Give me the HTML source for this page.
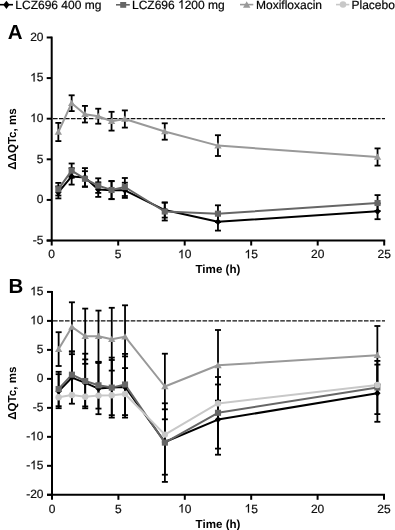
<!DOCTYPE html>
<html><head><meta charset="utf-8"><style>
html,body{margin:0;padding:0;background:#fff;width:395px;height:530px;overflow:hidden;}
svg{display:block;will-change:transform;text-rendering:geometricPrecision;}
text{stroke:#111;stroke-width:0.22px;}
text[font-weight=bold]{stroke-width:0;}
path.one{stroke:#111;stroke-width:37px;}
</style></head><body><svg width="395" height="530" viewBox="0 0 395 530"><g stroke-width="1.6"><line x1="0" y1="4.7" x2="13" y2="4.7" stroke="#000"/><line x1="116" y1="4.8" x2="129.8" y2="4.8" stroke="#666"/><line x1="240" y1="4.6" x2="253.3" y2="4.6" stroke="#999"/><line x1="336" y1="4.6" x2="349.3" y2="4.6" stroke="#c8c8c8"/></g><path d="M6.4 0.8L9.5 4.85L6.4 8.9L3.3 4.85Z" fill="#000"/><rect x="120.2" y="2" width="6" height="5.8" fill="#666"/><path d="M246.7 1.3L250.4 7.8L243.0 7.8Z" fill="#999"/><circle cx="343.00" cy="4.60" r="3.25" fill="#c8c8c8"/><g font-family="Liberation Sans, sans-serif" font-size="12" fill="#000"><text x="15.3" y="8.5">LCZ696 400 mg</text></g><text x="132.00" y="8.50" font-family="Liberation Sans, sans-serif" font-size="12" fill="#000">LCZ696  200 mg</text><path transform="translate(178.03 8.50) scale(0.005859 -0.005859)" d="M763 0L583 0L583 1147Q518 1085 412 1023Q306 961 223 930L223 1104Q371 1174 482 1274Q593 1374 639 1468L763 1468Z" fill="#000" class="one"/><g font-family="Liberation Sans, sans-serif" font-size="12" fill="#000"><text x="256" y="8.5">Moxifloxacin</text><text x="351.5" y="8.5">Placebo</text></g><line x1="53" y1="118.7" x2="385" y2="118.7" stroke="#111" stroke-width="1.2" stroke-dasharray="4.6 1.38"/><g stroke="#000" stroke-width="2" fill="none"><line x1="51.7" y1="36.58" x2="51.7" y2="245.53"/><line x1="46.7" y1="240.53" x2="385.2" y2="240.53"/><line x1="46.7" y1="37.48" x2="51.7" y2="37.48"/><line x1="46.7" y1="78.09" x2="51.7" y2="78.09"/><line x1="46.7" y1="118.70" x2="51.7" y2="118.70"/><line x1="46.7" y1="159.31" x2="51.7" y2="159.31"/><line x1="46.7" y1="199.92" x2="51.7" y2="199.92"/><line x1="46.7" y1="240.53" x2="51.7" y2="240.53"/><line x1="118.20" y1="240.53" x2="118.20" y2="245.53"/><line x1="184.70" y1="240.53" x2="184.70" y2="245.53"/><line x1="251.20" y1="240.53" x2="251.20" y2="245.53"/><line x1="317.70" y1="240.53" x2="317.70" y2="245.53"/><line x1="384.20" y1="240.53" x2="384.20" y2="245.53"/></g><text x="30.15" y="40.88" font-family="Liberation Sans, sans-serif" font-size="12" fill="#111">20</text><text x="30.15" y="81.49" font-family="Liberation Sans, sans-serif" font-size="12" fill="#111"> 5</text><path transform="translate(30.15 81.49) scale(0.005859 -0.005859)" d="M763 0L583 0L583 1147Q518 1085 412 1023Q306 961 223 930L223 1104Q371 1174 482 1274Q593 1374 639 1468L763 1468Z" fill="#111" class="one"/><text x="30.15" y="122.10" font-family="Liberation Sans, sans-serif" font-size="12" fill="#111"> 0</text><path transform="translate(30.15 122.10) scale(0.005859 -0.005859)" d="M763 0L583 0L583 1147Q518 1085 412 1023Q306 961 223 930L223 1104Q371 1174 482 1274Q593 1374 639 1468L763 1468Z" fill="#111" class="one"/><text x="36.83" y="162.71" font-family="Liberation Sans, sans-serif" font-size="12" fill="#111">5</text><text x="36.83" y="203.32" font-family="Liberation Sans, sans-serif" font-size="12" fill="#111">0</text><text x="32.83" y="243.93" font-family="Liberation Sans, sans-serif" font-size="12" fill="#111">-5</text><text x="48.36" y="258.33" font-family="Liberation Sans, sans-serif" font-size="12" fill="#111">0</text><text x="114.86" y="258.33" font-family="Liberation Sans, sans-serif" font-size="12" fill="#111">5</text><text x="178.03" y="258.33" font-family="Liberation Sans, sans-serif" font-size="12" fill="#111"> 0</text><path transform="translate(178.03 258.33) scale(0.005859 -0.005859)" d="M763 0L583 0L583 1147Q518 1085 412 1023Q306 961 223 930L223 1104Q371 1174 482 1274Q593 1374 639 1468L763 1468Z" fill="#111" class="one"/><text x="244.53" y="258.33" font-family="Liberation Sans, sans-serif" font-size="12" fill="#111"> 5</text><path transform="translate(244.53 258.33) scale(0.005859 -0.005859)" d="M763 0L583 0L583 1147Q518 1085 412 1023Q306 961 223 930L223 1104Q371 1174 482 1274Q593 1374 639 1468L763 1468Z" fill="#111" class="one"/><text x="311.03" y="258.33" font-family="Liberation Sans, sans-serif" font-size="12" fill="#111">20</text><text x="377.53" y="258.33" font-family="Liberation Sans, sans-serif" font-size="12" fill="#111">25</text><text x="217.95" y="273.0" text-anchor="middle" font-family="Liberation Sans, sans-serif" font-weight="bold" font-size="11.6" fill="#000">Time (h)</text><text transform="translate(16.2 139.0) rotate(-90)" text-anchor="middle" font-family="Liberation Sans, sans-serif" font-weight="bold" font-size="11.6" fill="#000">&#916;&#916;QTc, ms</text><text x="7.8" y="38.6" font-family="Liberation Sans, sans-serif" font-weight="bold" font-size="20.5" fill="#000">A</text><g stroke="#000" stroke-width="1.8"><line x1="58.35" y1="122.90" x2="58.35" y2="141.10"/><line x1="55.35" y1="122.90" x2="61.35" y2="122.90"/><line x1="55.35" y1="141.10" x2="61.35" y2="141.10"/><line x1="71.65" y1="95.30" x2="71.65" y2="111.10"/><line x1="68.65" y1="95.30" x2="74.65" y2="95.30"/><line x1="68.65" y1="111.10" x2="74.65" y2="111.10"/><line x1="84.95" y1="105.90" x2="84.95" y2="122.50"/><line x1="81.95" y1="105.90" x2="87.95" y2="105.90"/><line x1="81.95" y1="122.50" x2="87.95" y2="122.50"/><line x1="98.25" y1="108.70" x2="98.25" y2="123.70"/><line x1="95.25" y1="108.70" x2="101.25" y2="108.70"/><line x1="95.25" y1="123.70" x2="101.25" y2="123.70"/><line x1="111.55" y1="111.80" x2="111.55" y2="130.60"/><line x1="108.55" y1="111.80" x2="114.55" y2="111.80"/><line x1="108.55" y1="130.60" x2="114.55" y2="130.60"/><line x1="124.85" y1="110.40" x2="124.85" y2="127.60"/><line x1="121.85" y1="110.40" x2="127.85" y2="110.40"/><line x1="121.85" y1="127.60" x2="127.85" y2="127.60"/><line x1="164.75" y1="123.30" x2="164.75" y2="139.70"/><line x1="161.75" y1="123.30" x2="167.75" y2="123.30"/><line x1="161.75" y1="139.70" x2="167.75" y2="139.70"/><line x1="217.95" y1="135.20" x2="217.95" y2="156.00"/><line x1="214.95" y1="135.20" x2="220.95" y2="135.20"/><line x1="214.95" y1="156.00" x2="220.95" y2="156.00"/><line x1="377.55" y1="148.40" x2="377.55" y2="165.60"/><line x1="374.55" y1="148.40" x2="380.55" y2="148.40"/><line x1="374.55" y1="165.60" x2="380.55" y2="165.60"/></g><g stroke="#000" stroke-width="1.8"><line x1="58.35" y1="186.40" x2="58.35" y2="198.40"/><line x1="55.35" y1="186.40" x2="61.35" y2="186.40"/><line x1="55.35" y1="198.40" x2="61.35" y2="198.40"/><line x1="71.65" y1="168.20" x2="71.65" y2="184.60"/><line x1="68.65" y1="168.20" x2="74.65" y2="168.20"/><line x1="68.65" y1="184.60" x2="74.65" y2="184.60"/><line x1="84.95" y1="168.10" x2="84.95" y2="186.90"/><line x1="81.95" y1="168.10" x2="87.95" y2="168.10"/><line x1="81.95" y1="186.90" x2="87.95" y2="186.90"/><line x1="98.25" y1="182.30" x2="98.25" y2="196.90"/><line x1="95.25" y1="182.30" x2="101.25" y2="182.30"/><line x1="95.25" y1="196.90" x2="101.25" y2="196.90"/><line x1="111.55" y1="181.20" x2="111.55" y2="199.20"/><line x1="108.55" y1="181.20" x2="114.55" y2="181.20"/><line x1="108.55" y1="199.20" x2="114.55" y2="199.20"/><line x1="124.85" y1="182.70" x2="124.85" y2="197.90"/><line x1="121.85" y1="182.70" x2="127.85" y2="182.70"/><line x1="121.85" y1="197.90" x2="127.85" y2="197.90"/><line x1="164.75" y1="202.60" x2="164.75" y2="217.60"/><line x1="161.75" y1="202.60" x2="167.75" y2="202.60"/><line x1="161.75" y1="217.60" x2="167.75" y2="217.60"/><line x1="217.95" y1="213.00" x2="217.95" y2="230.60"/><line x1="214.95" y1="213.00" x2="220.95" y2="213.00"/><line x1="214.95" y1="230.60" x2="220.95" y2="230.60"/><line x1="377.55" y1="203.40" x2="377.55" y2="219.20"/><line x1="374.55" y1="203.40" x2="380.55" y2="203.40"/><line x1="374.55" y1="219.20" x2="380.55" y2="219.20"/></g><g stroke="#000" stroke-width="1.8"><line x1="58.35" y1="182.90" x2="58.35" y2="195.50"/><line x1="55.35" y1="182.90" x2="61.35" y2="182.90"/><line x1="55.35" y1="195.50" x2="61.35" y2="195.50"/><line x1="71.65" y1="163.50" x2="71.65" y2="177.70"/><line x1="68.65" y1="163.50" x2="74.65" y2="163.50"/><line x1="68.65" y1="177.70" x2="74.65" y2="177.70"/><line x1="84.95" y1="171.20" x2="84.95" y2="186.40"/><line x1="81.95" y1="171.20" x2="87.95" y2="171.20"/><line x1="81.95" y1="186.40" x2="87.95" y2="186.40"/><line x1="98.25" y1="178.30" x2="98.25" y2="192.90"/><line x1="95.25" y1="178.30" x2="101.25" y2="178.30"/><line x1="95.25" y1="192.90" x2="101.25" y2="192.90"/><line x1="111.55" y1="181.00" x2="111.55" y2="199.00"/><line x1="108.55" y1="181.00" x2="114.55" y2="181.00"/><line x1="108.55" y1="199.00" x2="114.55" y2="199.00"/><line x1="124.85" y1="178.00" x2="124.85" y2="196.00"/><line x1="121.85" y1="178.00" x2="127.85" y2="178.00"/><line x1="121.85" y1="196.00" x2="127.85" y2="196.00"/><line x1="164.75" y1="202.50" x2="164.75" y2="220.50"/><line x1="161.75" y1="202.50" x2="167.75" y2="202.50"/><line x1="161.75" y1="220.50" x2="167.75" y2="220.50"/><line x1="217.95" y1="205.30" x2="217.95" y2="222.10"/><line x1="214.95" y1="205.30" x2="220.95" y2="205.30"/><line x1="214.95" y1="222.10" x2="220.95" y2="222.10"/><line x1="377.55" y1="195.10" x2="377.55" y2="210.90"/><line x1="374.55" y1="195.10" x2="380.55" y2="195.10"/><line x1="374.55" y1="210.90" x2="380.55" y2="210.90"/></g><polyline points="58.35,132.00 71.65,103.20 84.95,114.20 98.25,116.20 111.55,121.20 124.85,119.00 164.75,131.50 217.95,145.60 377.55,157.00" fill="none" stroke="#999" stroke-width="2.0" stroke-linejoin="round"/><polyline points="58.35,192.40 71.65,176.40 84.95,177.50 98.25,189.60 111.55,190.20 124.85,190.30 164.75,210.10 217.95,221.80 377.55,211.30" fill="none" stroke="#000" stroke-width="2.0" stroke-linejoin="round"/><polyline points="58.35,189.20 71.65,170.60 84.95,178.80 98.25,185.60 111.55,190.00 124.85,187.00 164.75,211.50 217.95,213.70 377.55,203.00" fill="none" stroke="#666" stroke-width="2.0" stroke-linejoin="round"/><path d="M58.35 128.54L62.05 134.83L54.65 134.83Z" fill="#999"/><path d="M71.65 99.74L75.35 106.03L67.95 106.03Z" fill="#999"/><path d="M84.95 110.74L88.65 117.03L81.25 117.03Z" fill="#999"/><path d="M98.25 112.74L101.95 119.03L94.55 119.03Z" fill="#999"/><path d="M111.55 117.74L115.25 124.03L107.85 124.03Z" fill="#999"/><path d="M124.85 115.54L128.55 121.83L121.15 121.83Z" fill="#999"/><path d="M164.75 128.04L168.45 134.33L161.05 134.33Z" fill="#999"/><path d="M217.95 142.14L221.65 148.43L214.25 148.43Z" fill="#999"/><path d="M377.55 153.54L381.25 159.83L373.85 159.83Z" fill="#999"/><path d="M58.35 189.00L61.58 192.40L58.35 195.80L55.12 192.40Z" fill="#000"/><path d="M71.65 173.00L74.88 176.40L71.65 179.80L68.42 176.40Z" fill="#000"/><path d="M84.95 174.10L88.18 177.50L84.95 180.90L81.72 177.50Z" fill="#000"/><path d="M98.25 186.20L101.48 189.60L98.25 193.00L95.02 189.60Z" fill="#000"/><path d="M111.55 186.80L114.78 190.20L111.55 193.60L108.32 190.20Z" fill="#000"/><path d="M124.85 186.90L128.08 190.30L124.85 193.70L121.62 190.30Z" fill="#000"/><path d="M164.75 206.70L167.98 210.10L164.75 213.50L161.52 210.10Z" fill="#000"/><path d="M217.95 218.40L221.18 221.80L217.95 225.20L214.72 221.80Z" fill="#000"/><path d="M377.55 207.90L380.78 211.30L377.55 214.70L374.32 211.30Z" fill="#000"/><rect x="55.30" y="186.15" width="6.1" height="6.1" fill="#666"/><rect x="68.60" y="167.55" width="6.1" height="6.1" fill="#666"/><rect x="81.90" y="175.75" width="6.1" height="6.1" fill="#666"/><rect x="95.20" y="182.55" width="6.1" height="6.1" fill="#666"/><rect x="108.50" y="186.95" width="6.1" height="6.1" fill="#666"/><rect x="121.80" y="183.95" width="6.1" height="6.1" fill="#666"/><rect x="161.70" y="208.45" width="6.1" height="6.1" fill="#666"/><rect x="214.90" y="210.65" width="6.1" height="6.1" fill="#666"/><rect x="374.50" y="199.95" width="6.1" height="6.1" fill="#666"/><line x1="53" y1="320.9" x2="385" y2="320.9" stroke="#111" stroke-width="1.2" stroke-dasharray="4.6 1.38"/><g stroke="#000" stroke-width="2" fill="none"><line x1="52.0" y1="291.0" x2="52.0" y2="499.8"/><line x1="47.0" y1="494.8" x2="385.0" y2="494.8"/><line x1="47.0" y1="291.91" x2="52.0" y2="291.91"/><line x1="47.0" y1="320.90" x2="52.0" y2="320.90"/><line x1="47.0" y1="349.88" x2="52.0" y2="349.88"/><line x1="47.0" y1="378.87" x2="52.0" y2="378.87"/><line x1="47.0" y1="407.85" x2="52.0" y2="407.85"/><line x1="47.0" y1="436.84" x2="52.0" y2="436.84"/><line x1="47.0" y1="465.82" x2="52.0" y2="465.82"/><line x1="47.0" y1="494.81" x2="52.0" y2="494.81"/><line x1="118.40" y1="494.8" x2="118.40" y2="499.8"/><line x1="184.80" y1="494.8" x2="184.80" y2="499.8"/><line x1="251.20" y1="494.8" x2="251.20" y2="499.8"/><line x1="317.60" y1="494.8" x2="317.60" y2="499.8"/><line x1="384.00" y1="494.8" x2="384.00" y2="499.8"/></g><text x="30.15" y="295.31" font-family="Liberation Sans, sans-serif" font-size="12" fill="#111"> 5</text><path transform="translate(30.15 295.31) scale(0.005859 -0.005859)" d="M763 0L583 0L583 1147Q518 1085 412 1023Q306 961 223 930L223 1104Q371 1174 482 1274Q593 1374 639 1468L763 1468Z" fill="#111" class="one"/><text x="30.15" y="324.30" font-family="Liberation Sans, sans-serif" font-size="12" fill="#111"> 0</text><path transform="translate(30.15 324.30) scale(0.005859 -0.005859)" d="M763 0L583 0L583 1147Q518 1085 412 1023Q306 961 223 930L223 1104Q371 1174 482 1274Q593 1374 639 1468L763 1468Z" fill="#111" class="one"/><text x="36.83" y="353.28" font-family="Liberation Sans, sans-serif" font-size="12" fill="#111">5</text><text x="36.83" y="382.27" font-family="Liberation Sans, sans-serif" font-size="12" fill="#111">0</text><text x="32.83" y="411.25" font-family="Liberation Sans, sans-serif" font-size="12" fill="#111">-5</text><text x="26.16" y="440.24" font-family="Liberation Sans, sans-serif" font-size="12" fill="#111">- 0</text><path transform="translate(30.15 440.24) scale(0.005859 -0.005859)" d="M763 0L583 0L583 1147Q518 1085 412 1023Q306 961 223 930L223 1104Q371 1174 482 1274Q593 1374 639 1468L763 1468Z" fill="#111" class="one"/><text x="26.16" y="469.22" font-family="Liberation Sans, sans-serif" font-size="12" fill="#111">- 5</text><path transform="translate(30.15 469.22) scale(0.005859 -0.005859)" d="M763 0L583 0L583 1147Q518 1085 412 1023Q306 961 223 930L223 1104Q371 1174 482 1274Q593 1374 639 1468L763 1468Z" fill="#111" class="one"/><text x="26.16" y="498.21" font-family="Liberation Sans, sans-serif" font-size="12" fill="#111">-20</text><text x="48.66" y="512.60" font-family="Liberation Sans, sans-serif" font-size="12" fill="#111">0</text><text x="115.06" y="512.60" font-family="Liberation Sans, sans-serif" font-size="12" fill="#111">5</text><text x="178.13" y="512.60" font-family="Liberation Sans, sans-serif" font-size="12" fill="#111"> 0</text><path transform="translate(178.13 512.60) scale(0.005859 -0.005859)" d="M763 0L583 0L583 1147Q518 1085 412 1023Q306 961 223 930L223 1104Q371 1174 482 1274Q593 1374 639 1468L763 1468Z" fill="#111" class="one"/><text x="244.53" y="512.60" font-family="Liberation Sans, sans-serif" font-size="12" fill="#111"> 5</text><path transform="translate(244.53 512.60) scale(0.005859 -0.005859)" d="M763 0L583 0L583 1147Q518 1085 412 1023Q306 961 223 930L223 1104Q371 1174 482 1274Q593 1374 639 1468L763 1468Z" fill="#111" class="one"/><text x="310.93" y="512.60" font-family="Liberation Sans, sans-serif" font-size="12" fill="#111">20</text><text x="377.33" y="512.60" font-family="Liberation Sans, sans-serif" font-size="12" fill="#111">25</text><text x="218.00" y="527.7" text-anchor="middle" font-family="Liberation Sans, sans-serif" font-weight="bold" font-size="11.6" fill="#000">Time (h)</text><text transform="translate(16.2 393.2) rotate(-90)" text-anchor="middle" font-family="Liberation Sans, sans-serif" font-weight="bold" font-size="11.6" fill="#000">&#916;QTc, ms</text><text x="8.5" y="292.8" font-family="Liberation Sans, sans-serif" font-weight="bold" font-size="20.5" fill="#000">B</text><g stroke="#000" stroke-width="1.8"><line x1="58.64" y1="332.20" x2="58.64" y2="366.00"/><line x1="55.64" y1="332.20" x2="61.64" y2="332.20"/><line x1="55.64" y1="366.00" x2="61.64" y2="366.00"/><line x1="71.92" y1="302.30" x2="71.92" y2="351.50"/><line x1="68.92" y1="302.30" x2="74.92" y2="302.30"/><line x1="68.92" y1="351.50" x2="74.92" y2="351.50"/><line x1="85.20" y1="308.60" x2="85.20" y2="363.80"/><line x1="82.20" y1="308.60" x2="88.20" y2="308.60"/><line x1="82.20" y1="363.80" x2="88.20" y2="363.80"/><line x1="98.48" y1="310.60" x2="98.48" y2="361.80"/><line x1="95.48" y1="310.60" x2="101.48" y2="310.60"/><line x1="95.48" y1="361.80" x2="101.48" y2="361.80"/><line x1="111.76" y1="307.80" x2="111.76" y2="370.60"/><line x1="108.76" y1="307.80" x2="114.76" y2="307.80"/><line x1="108.76" y1="370.60" x2="114.76" y2="370.60"/><line x1="125.04" y1="305.30" x2="125.04" y2="368.10"/><line x1="122.04" y1="305.30" x2="128.04" y2="305.30"/><line x1="122.04" y1="368.10" x2="128.04" y2="368.10"/><line x1="164.88" y1="353.70" x2="164.88" y2="419.30"/><line x1="161.88" y1="353.70" x2="167.88" y2="353.70"/><line x1="161.88" y1="419.30" x2="167.88" y2="419.30"/><line x1="218.00" y1="330.00" x2="218.00" y2="400.60"/><line x1="215.00" y1="330.00" x2="221.00" y2="330.00"/><line x1="215.00" y1="400.60" x2="221.00" y2="400.60"/><line x1="377.36" y1="326.00" x2="377.36" y2="384.40"/><line x1="374.36" y1="326.00" x2="380.36" y2="326.00"/><line x1="374.36" y1="384.40" x2="380.36" y2="384.40"/></g><g stroke="#000" stroke-width="1.8"><line x1="58.64" y1="374.20" x2="58.64" y2="408.20"/><line x1="55.64" y1="374.20" x2="61.64" y2="374.20"/><line x1="55.64" y1="408.20" x2="61.64" y2="408.20"/><line x1="71.92" y1="351.50" x2="71.92" y2="403.70"/><line x1="68.92" y1="351.50" x2="74.92" y2="351.50"/><line x1="68.92" y1="403.70" x2="74.92" y2="403.70"/><line x1="85.20" y1="359.40" x2="85.20" y2="406.40"/><line x1="82.20" y1="359.40" x2="88.20" y2="359.40"/><line x1="82.20" y1="406.40" x2="88.20" y2="406.40"/><line x1="98.48" y1="363.00" x2="98.48" y2="414.20"/><line x1="95.48" y1="363.00" x2="101.48" y2="363.00"/><line x1="95.48" y1="414.20" x2="101.48" y2="414.20"/><line x1="111.76" y1="360.00" x2="111.76" y2="415.20"/><line x1="108.76" y1="360.00" x2="114.76" y2="360.00"/><line x1="108.76" y1="415.20" x2="114.76" y2="415.20"/><line x1="125.04" y1="356.40" x2="125.04" y2="417.60"/><line x1="122.04" y1="356.40" x2="128.04" y2="356.40"/><line x1="122.04" y1="417.60" x2="128.04" y2="417.60"/><line x1="164.88" y1="409.30" x2="164.88" y2="474.70"/><line x1="161.88" y1="409.30" x2="167.88" y2="409.30"/><line x1="161.88" y1="474.70" x2="167.88" y2="474.70"/><line x1="218.00" y1="384.50" x2="218.00" y2="454.70"/><line x1="215.00" y1="384.50" x2="221.00" y2="384.50"/><line x1="215.00" y1="454.70" x2="221.00" y2="454.70"/><line x1="377.36" y1="364.60" x2="377.36" y2="421.80"/><line x1="374.36" y1="364.60" x2="380.36" y2="364.60"/><line x1="374.36" y1="421.80" x2="380.36" y2="421.80"/></g><g stroke="#000" stroke-width="1.8"><line x1="58.64" y1="371.80" x2="58.64" y2="406.20"/><line x1="55.64" y1="371.80" x2="61.64" y2="371.80"/><line x1="55.64" y1="406.20" x2="61.64" y2="406.20"/><line x1="71.92" y1="354.20" x2="71.92" y2="395.20"/><line x1="68.92" y1="354.20" x2="74.92" y2="354.20"/><line x1="68.92" y1="395.20" x2="74.92" y2="395.20"/><line x1="85.20" y1="353.70" x2="85.20" y2="408.30"/><line x1="82.20" y1="353.70" x2="88.20" y2="353.70"/><line x1="82.20" y1="408.30" x2="88.20" y2="408.30"/><line x1="98.48" y1="362.00" x2="98.48" y2="408.60"/><line x1="95.48" y1="362.00" x2="101.48" y2="362.00"/><line x1="95.48" y1="408.60" x2="101.48" y2="408.60"/><line x1="111.76" y1="357.60" x2="111.76" y2="417.60"/><line x1="108.76" y1="357.60" x2="114.76" y2="357.60"/><line x1="108.76" y1="417.60" x2="114.76" y2="417.60"/><line x1="125.04" y1="353.90" x2="125.04" y2="415.10"/><line x1="122.04" y1="353.90" x2="128.04" y2="353.90"/><line x1="122.04" y1="415.10" x2="128.04" y2="415.10"/><line x1="164.88" y1="403.30" x2="164.88" y2="481.90"/><line x1="161.88" y1="403.30" x2="167.88" y2="403.30"/><line x1="161.88" y1="481.90" x2="167.88" y2="481.90"/><line x1="218.00" y1="377.00" x2="218.00" y2="448.60"/><line x1="215.00" y1="377.00" x2="221.00" y2="377.00"/><line x1="215.00" y1="448.60" x2="221.00" y2="448.60"/><line x1="377.36" y1="360.90" x2="377.36" y2="414.10"/><line x1="374.36" y1="360.90" x2="380.36" y2="360.90"/><line x1="374.36" y1="414.10" x2="380.36" y2="414.10"/></g><polyline points="58.64,349.10 71.92,326.90 85.20,336.20 98.48,336.20 111.76,339.20 125.04,336.70 164.88,386.50 218.00,365.30 377.36,355.20" fill="none" stroke="#999" stroke-width="2.0" stroke-linejoin="round"/><polyline points="58.64,391.20 71.92,377.60 85.20,382.90 98.48,388.60 111.76,387.60 125.04,387.00 164.88,442.00 218.00,419.60 377.36,393.20" fill="none" stroke="#000" stroke-width="2.0" stroke-linejoin="round"/><polyline points="58.64,389.00 71.92,374.70 85.20,381.00 98.48,385.30 111.76,387.60 125.04,384.50 164.88,442.60 218.00,412.80 377.36,387.50" fill="none" stroke="#666" stroke-width="2.0" stroke-linejoin="round"/><polyline points="58.64,397.30 71.92,395.00 85.20,396.80 98.48,395.60 111.76,395.30 125.04,394.00 164.88,434.60 218.00,403.40 377.36,385.00" fill="none" stroke="#c8c8c8" stroke-width="2.0" stroke-linejoin="round"/><path d="M58.64 345.64L62.34 351.93L54.94 351.93Z" fill="#999"/><path d="M71.92 323.44L75.62 329.73L68.22 329.73Z" fill="#999"/><path d="M85.20 332.74L88.90 339.03L81.50 339.03Z" fill="#999"/><path d="M98.48 332.74L102.18 339.03L94.78 339.03Z" fill="#999"/><path d="M111.76 335.74L115.46 342.03L108.06 342.03Z" fill="#999"/><path d="M125.04 333.24L128.74 339.53L121.34 339.53Z" fill="#999"/><path d="M164.88 383.04L168.58 389.33L161.18 389.33Z" fill="#999"/><path d="M218.00 361.84L221.70 368.13L214.30 368.13Z" fill="#999"/><path d="M377.36 351.74L381.06 358.03L373.66 358.03Z" fill="#999"/><path d="M58.64 387.80L61.87 391.20L58.64 394.60L55.41 391.20Z" fill="#000"/><path d="M71.92 374.20L75.15 377.60L71.92 381.00L68.69 377.60Z" fill="#000"/><path d="M85.20 379.50L88.43 382.90L85.20 386.30L81.97 382.90Z" fill="#000"/><path d="M98.48 385.20L101.71 388.60L98.48 392.00L95.25 388.60Z" fill="#000"/><path d="M111.76 384.20L114.99 387.60L111.76 391.00L108.53 387.60Z" fill="#000"/><path d="M125.04 383.60L128.27 387.00L125.04 390.40L121.81 387.00Z" fill="#000"/><path d="M164.88 438.60L168.11 442.00L164.88 445.40L161.65 442.00Z" fill="#000"/><path d="M218.00 416.20L221.23 419.60L218.00 423.00L214.77 419.60Z" fill="#000"/><path d="M377.36 389.80L380.59 393.20L377.36 396.60L374.13 393.20Z" fill="#000"/><rect x="55.59" y="385.95" width="6.1" height="6.1" fill="#666"/><rect x="68.87" y="371.65" width="6.1" height="6.1" fill="#666"/><rect x="82.15" y="377.95" width="6.1" height="6.1" fill="#666"/><rect x="95.43" y="382.25" width="6.1" height="6.1" fill="#666"/><rect x="108.71" y="384.55" width="6.1" height="6.1" fill="#666"/><rect x="121.99" y="381.45" width="6.1" height="6.1" fill="#666"/><rect x="161.83" y="439.55" width="6.1" height="6.1" fill="#666"/><rect x="214.95" y="409.75" width="6.1" height="6.1" fill="#666"/><rect x="374.31" y="384.45" width="6.1" height="6.1" fill="#666"/><circle cx="58.64" cy="397.30" r="3.2" fill="#c8c8c8"/><circle cx="71.92" cy="395.00" r="3.2" fill="#c8c8c8"/><circle cx="85.20" cy="396.80" r="3.2" fill="#c8c8c8"/><circle cx="98.48" cy="395.60" r="3.2" fill="#c8c8c8"/><circle cx="111.76" cy="395.30" r="3.2" fill="#c8c8c8"/><circle cx="125.04" cy="394.00" r="3.2" fill="#c8c8c8"/><circle cx="164.88" cy="434.60" r="3.2" fill="#c8c8c8"/><circle cx="218.00" cy="403.40" r="3.2" fill="#c8c8c8"/><circle cx="377.36" cy="385.00" r="3.2" fill="#c8c8c8"/></svg></body></html>
